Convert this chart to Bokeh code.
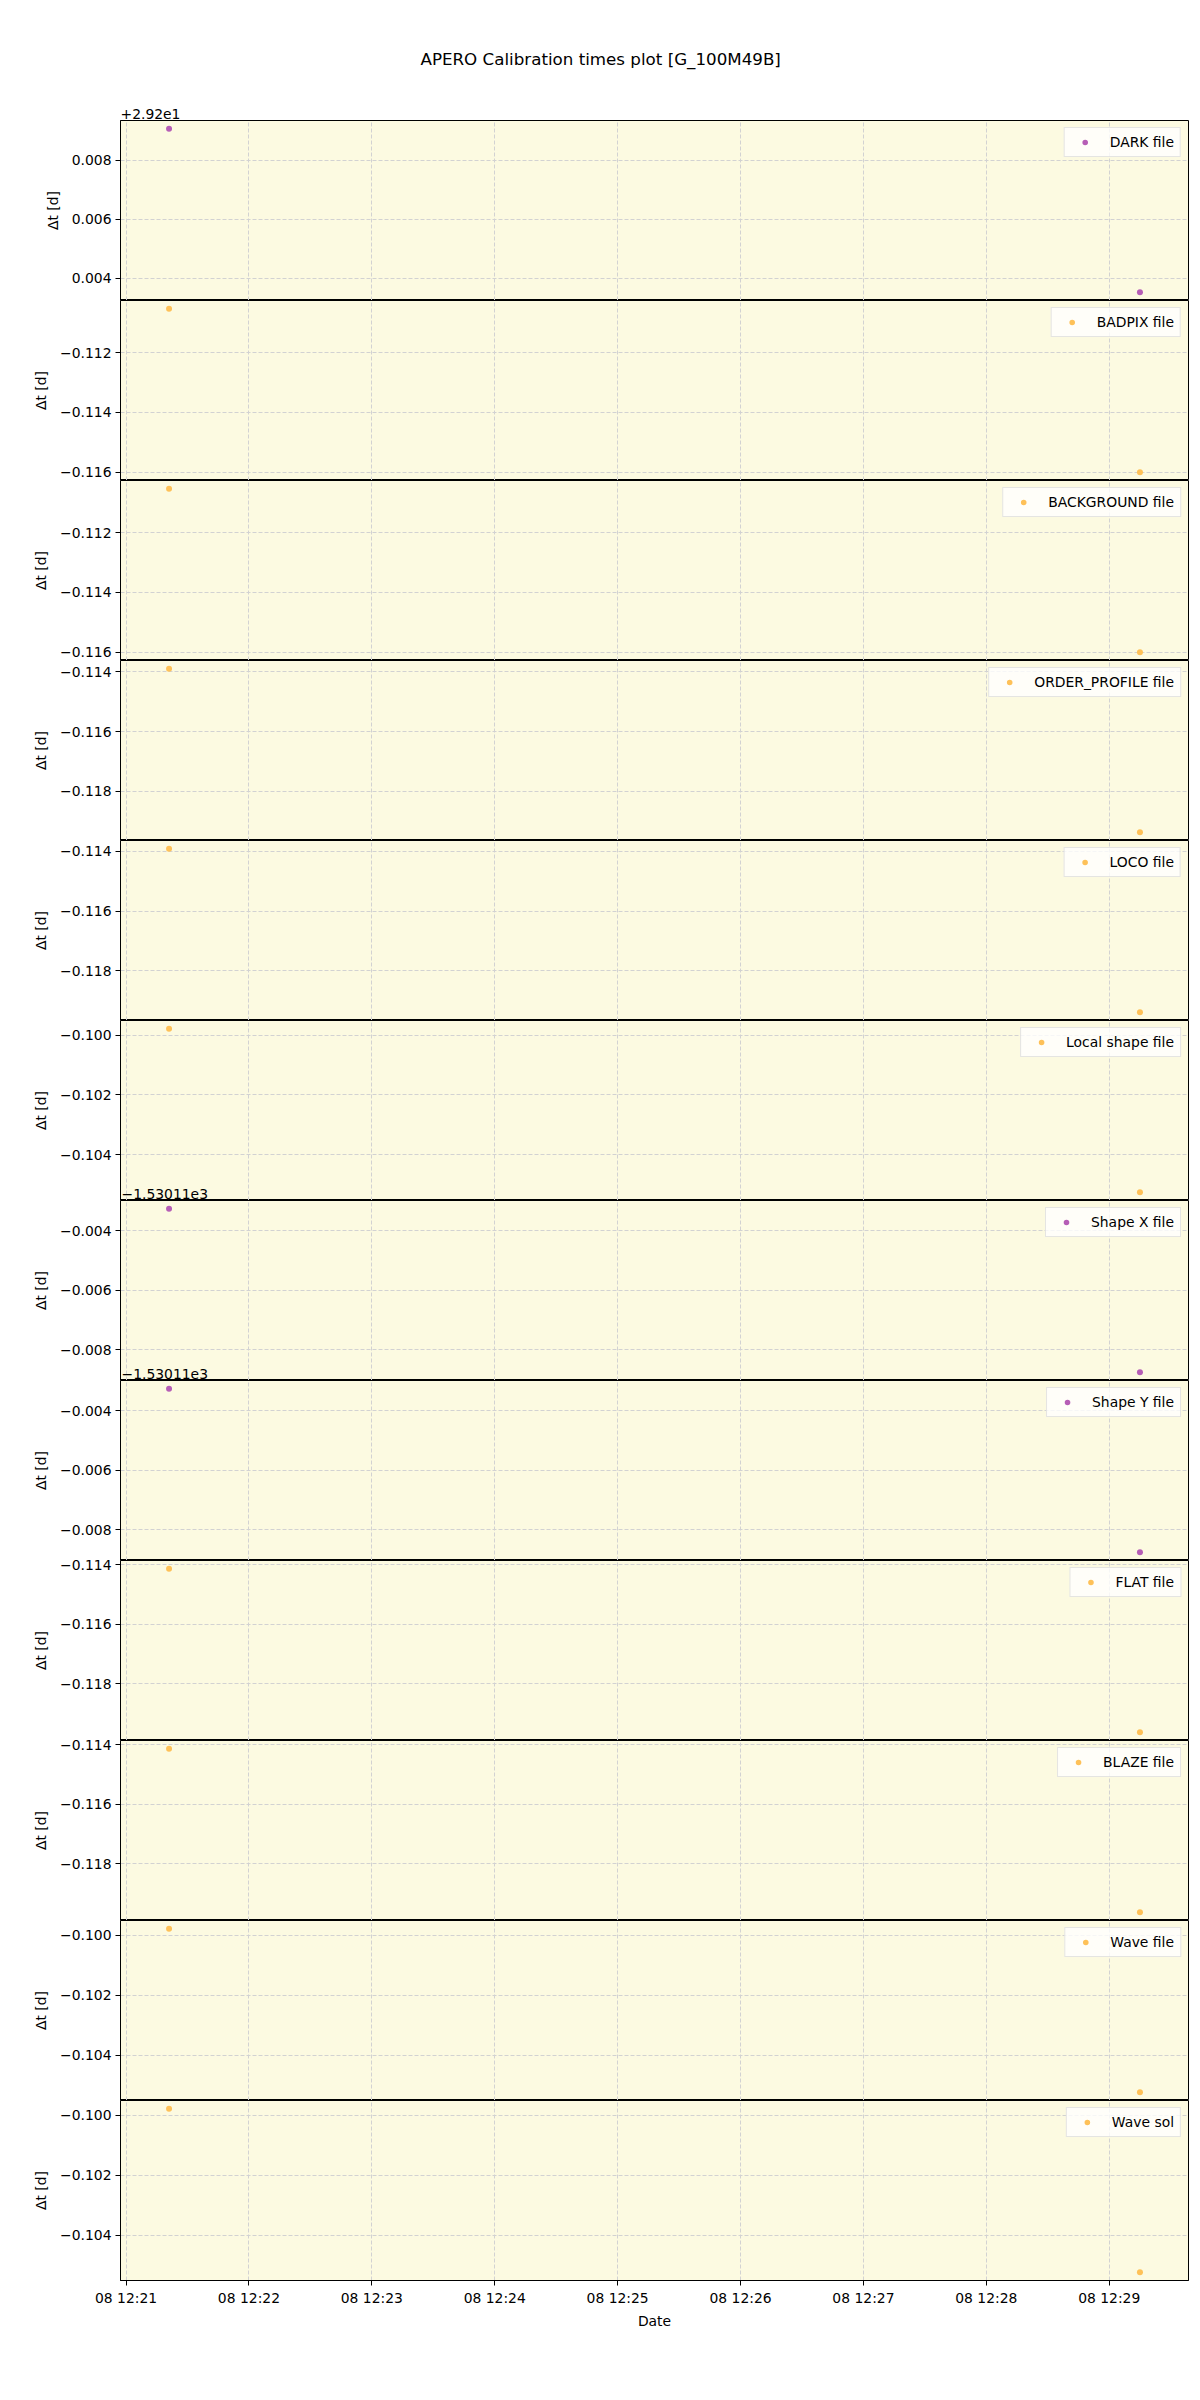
import pandas as pd
from bokeh.plotting import figure
from bokeh.layouts import column
from bokeh.models import (Range1d, SingleIntervalTicker, DatetimeTickFormatter,
                          CustomJSTickFormatter, Label, Title)
from bokeh.embed import file_html
from bokeh.resources import INLINE

TITLE = "APERO Calibration times plot [G_100M49B]"
X_LABEL = "Date"
Y_LABEL = "\u0394t [d]"

# observation times (two calibration epochs)
times = ["2020-10-08 12:21:21", "2020-10-08 12:29:15"]

labels = ["DARK file", "BADPIX file", "BACKGROUND file", "ORDER_PROFILE file",
          "LOCO file", "Local shape file", "Shape X file", "Shape Y file",
          "FLAT file", "BLAZE file", "Wave file", "Wave sol"]

dark = [29.20906, 29.20353]
badpix = [-0.11053, -0.11600]
background = [-0.11053, -0.11600]
order_profile = [-0.11389, -0.11937]
loco = [-0.11391, -0.11939]
local_shape = [-0.09978, -0.10526]
shape_x = [-1530.11326, -1530.11876]
shape_y = [-1530.11326, -1530.11876]
flat = [-0.11413, -0.11963]
blaze = [-0.11413, -0.11963]
wave_file = [-0.09978, -0.10524]
wave_sol = [-0.09978, -0.10524]

series = [dark, badpix, background, order_profile, loco, local_shape,
          shape_x, shape_y, flat, blaze, wave_file, wave_sol]

# axis offsets (matplotlib-style offset text)
offsets = [29.2, 0, 0, 0, 0, 0, -1530.11, -1530.11, 0, 0, 0, 0]
offset_text = ["+2.92e1", "", "", "", "", "", "\u22121.53011e3", "\u22121.53011e3",
               "", "", "", ""]

PURPLE = "#b65eb6"
ORANGE = "#fec158"
colors = [PURPLE, ORANGE, ORANGE, ORANGE, ORANGE, ORANGE,
          PURPLE, PURPLE, ORANGE, ORANGE, ORANGE, ORANGE]

FONT = "DejaVu Sans"
FS = "13.9px"
BG = "#fcfae1"
GRID = "#d2d2d2"
OVER = 12  # px of overlap between stacked panels (room for tick labels at the top edge)

x_ms = (pd.to_datetime(times).astype("int64") // 10**6).astype(float).tolist()
xspan = max(x_ms) - min(x_ms)
xr0 = min(x_ms) - 0.05 * xspan
xr1 = max(x_ms) + 0.05 * xspan

n = len(series)
figs = []
yranges = []
for i in range(n):
    ys = [v - offsets[i] for v in series[i]]
    lo, hi = min(ys), max(ys)
    pad = 0.05 * (hi - lo)
    yr = Range1d(lo - pad, hi + pad)
    yranges.append(yr)
    first = i == 0
    last = i == n - 1
    p = figure(x_axis_type="datetime", output_backend="svg", toolbar_location=None,
               frame_width=1068, frame_height=180,
               x_range=Range1d(xr0, xr1), y_range=yr,
               min_border_left=120, min_border_right=4,
               min_border_top=120 if first else OVER,
               min_border_bottom=70 if last else 0,
               margin=(0, 0, 0, 0) if first else (-OVER, 0, 0, 0))
    p.background_fill_color = BG
    p.border_fill_color = "white"
    if not first:
        p.border_fill_alpha = 0
    p.outline_line_color = "black"
    p.outline_line_width = 1
    p.outline_line_alpha = 1

    p.scatter(x_ms, ys, size=6, fill_color=colors[i], line_color=None,
              legend_label=labels[i])

    xt = SingleIntervalTicker(interval=60000, num_minor_ticks=0)
    p.xaxis.ticker = xt
    p.xgrid.ticker = xt
    fmt = "%d %H:%M"
    p.xaxis.formatter = DatetimeTickFormatter(milliseconds=fmt, seconds=fmt, minsec=fmt,
                                              minutes=fmt, hourmin=fmt, hours=fmt,
                                              days=fmt)
    yt = SingleIntervalTicker(interval=0.002, num_minor_ticks=0)
    p.yaxis.ticker = yt
    p.ygrid.ticker = yt
    p.yaxis.formatter = CustomJSTickFormatter(
        code="const s = Math.abs(tick).toFixed(3); return (tick < -1e-9 ? '\u2212' : '') + s;")

    for ax in (p.xaxis[0], p.yaxis[0]):
        ax.axis_line_color = "black"
        ax.major_tick_line_color = "black"
        ax.minor_tick_line_color = None
        ax.major_tick_in = 0
        ax.major_tick_out = 5
        ax.major_label_standoff = 4
        ax.major_label_text_font = FONT
        ax.major_label_text_font_size = FS
        ax.major_label_text_color = "black"
        ax.axis_label_text_font = FONT
        ax.axis_label_text_font_size = FS
        ax.axis_label_text_font_style = "normal"
        ax.axis_label_text_color = "black"
    p.yaxis.axis_label = Y_LABEL
    p.yaxis.axis_label_standoff = 8
    if last:
        p.xaxis.axis_label = X_LABEL
        p.xaxis.axis_label_standoff = 4
    else:
        p.xaxis.visible = False

    for g in (p.xgrid[0], p.ygrid[0]):
        g.grid_line_color = GRID
        g.grid_line_dash = "4 2"
        g.grid_line_width = 1

    lg = p.legend[0]
    lg.location = "top_right"
    lg.margin = 7
    lg.padding = 6
    lg.glyph_width = 28
    lg.glyph_height = 14
    lg.label_height = 14
    lg.label_standoff = 11
    lg.label_text_font = FONT
    lg.label_text_font_size = FS
    lg.label_text_color = "black"
    lg.background_fill_color = "white"
    lg.background_fill_alpha = 0.8
    lg.border_line_color = "#cccccc"
    lg.border_line_width = 1

    if first:
        p.title.text = TITLE
        p.title.text_font = FONT
        p.title.text_font_size = "16.7px"
        p.title.text_font_style = "normal"
        p.title.text_color = "black"
        p.title.align = "left"
        p.title.offset = 300
        p.title.standoff = 72
        if offset_text[i]:
            p.add_layout(Title(text=offset_text[i], align="left", text_font=FONT,
                               text_font_size=FS, text_font_style="normal",
                               text_color="black", standoff=4, offset=0), "above")
    figs.append(p)

# offset texts for lower panels sit just above their frame (drawn in the panel above)
for i in range(1, n):
    if offset_text[i]:
        figs[i - 1].add_layout(Label(x=xr0, y=yranges[i - 1].start, text=offset_text[i],
                                     x_offset=1, y_offset=2, text_baseline="bottom",
                                     text_align="left", text_font=FONT, text_font_size=FS,
                                     text_color="black"))

layout = column(*figs, spacing=0)
open("out.html", "w").write(file_html(layout, INLINE))
